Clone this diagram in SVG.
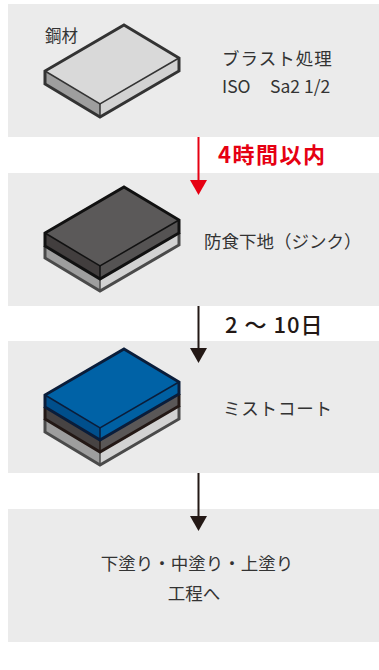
<svg xmlns="http://www.w3.org/2000/svg" width="379" height="670" viewBox="0 0 379 670">
  <defs>
    <style>
      .panel { fill: #ebebeb; }
      .txt { font-family: "Noto Sans CJK JP", "Noto Sans", sans-serif; fill: #333333; font-size: 17.5px; }
      .lbl { font-family: "Noto Sans CJK JP", "Noto Sans", sans-serif; font-size: 22px; font-weight: bold; }
      .edge { fill: none; stroke-width: 1.5; }
      .outline { fill: none; stroke-width: 3; stroke-linejoin: miter; }
    </style>
    <marker id="headRed" markerUnits="userSpaceOnUse" markerWidth="15" markerHeight="17" viewBox="0 0 15 17" refX="0" refY="8.5" orient="auto">
      <path d="M0,0 L15,8.5 L0,17 z" fill="#e60012"/>
    </marker>
    <marker id="headDark" markerUnits="userSpaceOnUse" markerWidth="15" markerHeight="17" viewBox="0 0 15 17" refX="0" refY="8.5" orient="auto">
      <path d="M0,0 L15,8.5 L0,17 z" fill="#231815"/>
    </marker>
  </defs>

  <rect width="379" height="670" fill="#ffffff"/>

  <!-- step 1: blasted steel -->
  <g id="step-blast">
    <rect class="panel" x="8" y="4" width="371" height="133"/>
    <g id="slab-steel">
      <polygon points="124,25 179,58 100,104 45,71" fill="#d9d9d9"/>
      <polygon points="45,71 100,104 100,117 45,84" fill="#9e9e9e"/>
      <polygon points="100,104 179,58 179,71 100,117" fill="#d2d2d2"/>
      <polyline class="edge" points="45,71 100,104 179,58" stroke="#333"/>
      <line class="edge" x1="100" y1="104" x2="100" y2="117" stroke="#333"/>
      <polygon class="outline" points="124,25 179,58 179,71 100,117 45,84 45,71" stroke="#333"/>
    </g>
    <text class="txt" x="45" y="42" style="font-size:16.5px">鋼材</text>
    <text class="txt" x="222" y="65" letter-spacing="1">ブラスト処理</text>
    <text class="txt" x="222" y="93">ISO</text>
    <text class="txt" x="270" y="93">Sa2 1/2</text>
  </g>

  <!-- step 2: zinc primer -->
  <g id="step-zinc">
    <rect class="panel" x="8" y="173" width="371" height="133"/>
    <g id="slab-zinc">
      <!-- steel underneath -->
      <polygon points="45,246 100,279 100,291 45,258" fill="#9e9e9e"/>
      <polygon points="100,279 179,233 179,245 100,291" fill="#d2d2d2"/>
      <line class="edge" x1="100" y1="279" x2="100" y2="291" stroke="#4a4a4a"/>
      <polyline class="outline" points="45,246 45,258 100,291 179,245 179,233" stroke="#4a4a4a"/>
      <!-- zinc layer -->
      <polygon points="124,187 179,220 100,266 45,233" fill="#5b5959"/>
      <polygon points="45,233 100,266 100,279 45,246" fill="#423e3e"/>
      <polygon points="100,266 179,220 179,233 100,279" fill="#555353"/>
      <polyline class="edge" points="45,233 100,266 179,220" stroke="#111"/>
      <line class="edge" x1="100" y1="266" x2="100" y2="279" stroke="#111"/>
      <polygon class="outline" points="124,187 179,220 179,233 100,279 45,246 45,233" stroke="#111"/>
    </g>
    <text class="txt" x="204" y="248">防食下地（ジンク）</text>
  </g>

  <!-- step 3: mist coat -->
  <g id="step-mist">
    <rect class="panel" x="8" y="341" width="371" height="132"/>
    <g id="slab-mist">
      <!-- steel -->
      <polygon points="45,419 100,452 100,465 45,432" fill="#9e9e9e"/>
      <polygon points="100,452 179,406 179,419 100,465" fill="#d2d2d2"/>
      <line class="edge" x1="100" y1="452" x2="100" y2="465" stroke="#4a4a4a"/>
      <polyline class="outline" points="45,419 45,432 100,465 179,419 179,406" stroke="#4a4a4a"/>
      <!-- zinc -->
      <polygon points="45,407 100,440 100,452 45,419" fill="#474343"/>
      <polygon points="100,440 179,394 179,406 100,452" fill="#5a5757"/>
      <line class="edge" x1="100" y1="440" x2="100" y2="452" stroke="#231815"/>
      <polyline class="outline" points="45,407 45,419 100,452 179,406 179,394" stroke="#231815"/>
      <!-- mist coat -->
      <polygon points="124,349 179,382 100,428 45,395" fill="#0062a6"/>
      <polygon points="45,395 100,428 100,440 45,407" fill="#004f8c"/>
      <polygon points="100,428 179,382 179,394 100,440" fill="#0060a2"/>
      <polyline class="edge" points="45,395 100,428 179,382" stroke="#0a1d3a"/>
      <line class="edge" x1="100" y1="428" x2="100" y2="440" stroke="#0a1d3a"/>
      <polygon class="outline" points="124,349 179,382 179,394 100,440 45,407 45,395" stroke="#0a1d3a"/>
    </g>
    <text class="txt" x="223" y="415" letter-spacing="0.8">ミストコート</text>
  </g>

  <!-- step 4: following coats -->
  <g id="step-next">
    <rect class="panel" x="8" y="509" width="371" height="133"/>
    <text class="txt" x="197" y="570" text-anchor="middle">下塗り・中塗り・上塗り</text>
    <text class="txt" x="194" y="600" text-anchor="middle">工程へ</text>
  </g>

  <!-- connectors -->
  <g id="connectors" stroke-width="2" fill="none">
    <line x1="198.5" y1="137" x2="198.5" y2="180" stroke="#e60012" marker-end="url(#headRed)"/>
    <line x1="198.5" y1="306" x2="198.5" y2="348" stroke="#231815" marker-end="url(#headDark)"/>
    <line x1="198.5" y1="473" x2="198.5" y2="516" stroke="#231815" marker-end="url(#headDark)"/>
  </g>
  <text class="lbl" x="218" y="163" fill="#e60012" letter-spacing="1.5">4時間以内</text>
  <text class="lbl" x="225" y="333" fill="#231815" style="font-weight:500" letter-spacing="1">2 〜 10日</text>
</svg>
